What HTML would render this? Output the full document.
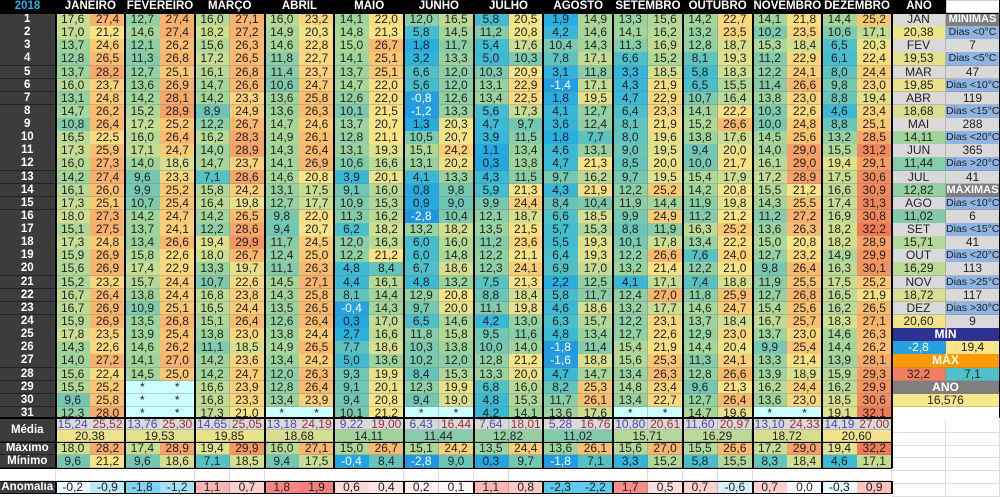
<!DOCTYPE html>
<html><head><meta charset="utf-8">
<style>
body{margin:0;width:1000px;height:494px;background:#fff;overflow:hidden;position:relative;font-family:"Liberation Sans",sans-serif;}
.c{position:absolute;box-sizing:border-box;font-size:12px;line-height:13px;text-align:center;color:#222;white-space:nowrap;overflow:hidden;border-right:1px solid rgba(120,120,120,.35);border-bottom:1px solid rgba(120,120,120,.35);}
.l{background:#3c3c3c;color:#fff;font-weight:bold;border-color:#222;font-size:11.5px;}
.h{background:#000;color:#fff;font-weight:bold;border:none;font-size:11.5px;}
.v{position:absolute;background:#000;}
</style></head><body>
<div id="r"></div>
<script>
const R=document.getElementById('r');
function cell(x,y,w,h,t,bg,cls,style){const d=document.createElement('div');d.className='c '+(cls||'');d.style.left=x+'px';d.style.top=y+'px';d.style.width=w+'px';d.style.height=h+'px';d.style.lineHeight=h+'px';if(bg)d.style.background=bg;if(style)d.style.cssText+=style;d.textContent=t;R.appendChild(d);return d;}
function line(x,y,w,h){const d=document.createElement('div');d.className='v';d.style.left=x+'px';d.style.top=y+'px';d.style.width=w+'px';d.style.height=h+'px';R.appendChild(d);}
const stops=[[-2.8,[30,150,225]],[2,[40,175,225]],[6,[70,190,205]],[10,[120,200,175]],[14,[160,212,155]],[18,[205,222,145]],[21,[248,228,135]],[25,[250,200,115]],[28.5,[247,165,105]],[32.5,[238,120,85]]];
function col(v){if(v<=stops[0][0])return 'rgb('+stops[0][1]+')';for(let i=1;i<stops.length;i++){if(v<=stops[i][0]){const a=stops[i-1],b=stops[i],t=(v-a[0])/(b[0]-a[0]);return 'rgb('+a[1].map((c,k)=>Math.round(c+(b[1][k]-c)*t)).join(',')+')';}}return 'rgb('+stops[stops.length-1][1]+')';}
function acol(v){if(v<0){const t=Math.min(1,-v/2.3);return 'rgb('+[Math.round(255-165*t),Math.round(255-55*t),Math.round(255-17*t)]+')';}const t=Math.min(1,v/1.9);return 'rgb('+[Math.round(255-8*t),Math.round(255-128*t),Math.round(255-128*t)]+')';}
const D=`17,6 27,4 12,7 27,4 16,0 27,1 16,0 23,2 14,1 22,0 12,0 16,5 5,8 20,5 1,9 14,9 13,3 15,6 14,2 22,7 14,1 21,8 14,4 25,2
17,0 21,2 14,6 27,4 18,2 27,2 14,9 20,3 14,8 21,3 5,8 14,5 11,2 20,8 4,2 14,6 14,1 16,2 13,2 23,5 10,2 23,5 10,6 17,1
13,7 24,6 12,1 26,2 15,6 26,3 14,6 22,8 15,0 26,7 1,8 11,7 5,4 17,6 10,4 14,3 11,3 16,9 12,8 18,7 15,3 18,4 6,5 20,3
12,8 26,5 11,3 26,8 17,2 26,5 11,8 22,7 14,1 25,1 3,2 13,3 5,0 10,3 7,8 17,1 6,6 15,2 8,1 19,3 11,2 22,9 6,1 22,4
13,7 28,2 12,7 25,1 16,1 26,8 11,4 23,7 13,7 25,1 6,6 12,0 10,3 20,9 3,1 11,8 3,3 18,5 5,8 18,3 12,2 24,1 8,0 24,4
16,0 23,7 13,6 26,9 14,7 26,6 10,6 24,7 14,7 22,0 5,6 12,0 13,1 22,9 -1,4 17,1 4,3 21,9 6,5 15,5 11,4 26,6 9,8 23,0
13,1 24,8 14,2 28,1 14,2 23,3 13,6 25,8 12,6 22,0 -0,8 12,6 13,4 22,5 1,8 19,5 4,7 22,9 10,7 16,4 13,8 23,0 8,8 19,4
14,7 26,2 15,2 28,9 8,9 24,9 13,6 26,3 10,1 21,5 -1,2 13,3 5,6 17,3 4,1 12,7 6,4 23,3 14,1 22,2 10,3 22,6 4,6 23,4
10,8 26,4 17,2 25,2 12,2 26,7 14,7 24,6 13,7 20,7 1,3 20,3 4,7 9,7 3,6 12,4 8,1 21,9 15,2 26,6 10,0 24,8 8,8 25,1
16,5 22,5 16,0 26,4 16,2 28,3 14,9 26,1 12,8 21,1 10,5 20,7 3,9 11,5 1,8 7,7 8,0 19,6 13,8 17,6 14,5 25,6 13,2 28,5
17,3 25,9 17,1 24,7 14,0 28,9 14,3 26,4 13,1 19,3 15,1 24,2 1,1 13,4 4,6 13,1 9,0 19,5 9,4 20,0 14,0 29,0 15,5 31,2
16,0 27,3 14,0 18,6 14,7 23,7 14,1 26,9 10,6 16,6 13,1 20,2 0,3 13,8 4,7 21,3 8,5 20,0 10,0 21,7 16,1 29,0 19,4 29,1
14,2 27,4 9,6 23,3 7,1 28,6 14,6 20,8 3,9 20,1 4,1 13,3 4,3 11,5 9,7 16,2 9,7 19,5 15,4 17,9 17,2 28,9 17,5 30,6
16,1 26,0 9,9 25,2 15,8 24,2 13,1 17,5 9,1 16,0 0,8 9,8 5,9 21,3 4,3 21,9 12,2 25,2 14,2 20,8 15,5 21,2 16,6 30,9
17,3 25,1 10,7 25,4 16,4 19,8 12,7 17,7 10,9 15,3 0,9 9,0 9,9 24,4 8,4 10,4 11,9 14,4 11,9 19,8 14,3 25,5 17,4 31,3
18,0 27,3 14,2 24,7 14,2 26,5 9,8 22,0 11,3 16,2 -2,8 10,4 12,1 18,7 6,6 18,5 9,9 24,9 11,2 21,2 11,2 27,2 16,9 30,8
15,1 27,5 13,7 24,1 12,2 28,6 9,4 20,7 6,2 18,2 13,2 18,2 13,5 21,5 5,7 15,3 8,8 11,9 16,3 25,2 13,6 26,3 18,2 32,2
17,3 24,8 13,4 26,6 19,4 29,9 11,7 24,5 12,0 16,3 6,0 16,0 11,2 23,6 5,5 19,3 10,1 17,8 13,4 22,2 15,0 20,8 18,2 28,9
15,9 26,9 15,8 22,6 18,0 26,7 12,4 25,0 12,2 21,2 6,0 14,8 12,2 21,1 6,4 19,3 12,2 26,6 7,6 24,0 12,7 23,2 14,9 29,9
15,6 26,9 17,4 22,9 13,3 19,7 11,1 26,3 4,8 8,4 6,7 18,6 12,3 24,1 6,9 17,0 13,2 21,4 12,2 21,0 9,8 26,4 16,3 30,1
15,2 23,2 15,7 24,4 10,7 22,6 14,5 27,1 4,4 16,1 4,8 13,2 7,5 21,3 2,2 12,5 4,1 17,1 7,4 18,8 11,9 25,5 17,5 25,2
16,7 26,4 13,8 24,4 16,8 23,8 14,3 25,8 8,1 14,4 12,9 20,8 8,8 18,4 5,8 11,7 12,4 27,0 11,8 25,9 12,7 26,8 16,5 21,9
16,7 26,9 10,9 25,1 16,5 24,4 13,5 26,5 -0,4 14,3 9,7 20,0 11,1 19,8 4,6 18,6 13,2 17,7 14,6 24,7 15,4 25,6 16,2 26,5
15,9 26,9 13,5 26,8 15,1 26,4 12,6 26,4 0,3 17,0 6,5 14,6 4,2 13,0 6,3 15,7 12,2 23,1 13,7 18,4 16,7 25,7 18,3 27,1
17,8 23,5 13,9 25,4 13,8 23,0 13,8 24,4 2,7 16,6 11,8 15,8 9,5 11,6 4,8 13,4 12,7 22,6 12,9 23,0 13,7 23,0 14,6 26,3
14,3 22,6 14,6 26,2 11,1 18,5 14,9 26,5 7,7 18,6 10,3 13,8 10,0 14,0 -1,8 11,4 15,4 21,9 14,4 20,4 9,9 25,4 14,4 26,2
14,0 27,2 14,1 27,0 14,2 23,6 13,4 24,2 5,0 13,6 10,2 12,0 12,8 21,2 -1,6 18,8 15,6 25,3 11,3 24,1 13,3 21,4 13,9 28,1
15,6 22,4 14,5 25,0 14,2 24,7 12,0 26,3 9,3 19,9 8,4 15,3 13,3 20,0 4,7 14,7 13,4 26,3 12,8 26,6 13,9 18,9 15,9 29,3
15,5 25,2 * * 16,6 23,9 12,8 26,4 9,1 20,1 12,3 19,9 6,8 16,0 8,2 25,3 14,8 23,4 9,6 21,3 16,2 24,4 16,2 29,9
9,6 25,8 * * 16,8 23,3 13,4 23,9 9,4 20,8 9,4 19,0 4,8 15,3 11,7 26,1 13,4 22,7 12,7 26,4 13,6 23,0 18,5 30,6
12,3 28,0 * * 17,3 21,0 * * 10,1 21,2 * * 4,2 14,1 13,6 17,6 * * 14,7 19,6 * * 19,1 32,1`.split('\n').map(r=>r.trim().split(/\s+/));
const CW=69.7/2,X0=55.5,RH=13.13,Y0=13;
const cx=j=>X0+j*CW;
cell(0,0,1000,13,'','#000','h');
cell(0,0,55,13,'2018','#000','h','color:#1eb4e6;');
['JANEIRO','FEVEREIRO','MARÇO','ABRIL','MAIO','JUNHO','JULHO','AGOSTO','SETEMBRO','OUTUBRO','NOVEMBRO','DEZEMBRO'].forEach((m,i)=>cell(cx(2*i),0,69.7,13,m,'#000','h'));
cell(892,0,54,13,'ANO','#000','h');
cell(946,0,54,13,'','#fff','', 'border:1px solid #ccc;');
for(let i=0;i<31;i++){const y=Y0+i*RH;cell(0,y,55.5,RH+0.5,String(i+1),null,'l');
 D[i].forEach((t,j)=>{if(t==='*'){cell(cx(j),y,CW+0.5,RH+0.5,'*','#ccffff');}else{const v=parseFloat(t.replace(',','.'));cell(cx(j),y,CW+0.5,RH+0.5,t,col(v),'',v<0?'color:#fff;':'');}});}
const mons=['JAN','FEV','MAR','ABR','MAI','JUN','JUL','AGO','SET','OUT','NOV','DEZ'];
const avg=['20,38','19,53','19,85','18,68','14,11','11,44','12,82','11,02','15,71','16,29','18,72','20,60'];
for(let k=0;k<12;k++){cell(892,Y0+2*k*RH,54,RH+0.5,mons[k],'#d9d9d9');cell(892,Y0+(2*k+1)*RH,54,RH+0.5,avg[k],col(parseFloat(avg[k].replace(',','.'))));}
const rc=[['MÍNIMAS','h2'],['Dias <0°C','b'],['7','g'],['Dias <5°C','b'],['47','g'],['Dias <10°C','b'],['119','g'],['Dias <15°C','b'],['288','g'],['Dias <20°C','b'],['365','g'],['Dias >20°C','b'],['41','g'],['MÁXIMAS','h2'],['Dias <10°C','b'],['6','g'],['Dias <15°C','b'],['41','g'],['Dias <20°C','b'],['113','g'],['Dias >25°C','b'],['117','g'],['Dias >30°C','b'],['9','g']];
rc.forEach((r,k)=>{const y=Y0+k*RH;if(r[1]==='h2')cell(946,y,54,RH+0.5,r[0],'#7f7f7f','', 'color:#fff;font-weight:bold;font-size:11px;');else if(r[1]==='b')cell(946,y,54,RH+0.5,r[0],'#8db4e2','', 'font-size:10.5px;');else cell(946,y,54,RH+0.5,r[0],'#d9d9d9');});
let y=Y0+24*RH;
cell(892,y,108,RH+0.5,'MÍN','#2e3192','', 'color:#fff;font-weight:bold;');y+=RH;
cell(892,y,54,RH+0.5,'-2,8','#2a9fe0','', 'color:#fff;');cell(946,y,54,RH+0.5,'19,4','#f8e68a');y+=RH;
cell(892,y,108,RH+0.5,'MÁX','#ff9900','', 'color:#fff;font-weight:bold;');y+=RH;
cell(892,y,54,RH+0.5,'32,2','#f07f5e');cell(946,y,54,RH+0.5,'7,1','#50c0c8');y+=RH;
cell(892,y,108,RH+0.5,'ANO','#7f7f7f','', 'color:#fff;font-weight:bold;');y+=RH;
cell(892,y,108,RH+0.5,'16,576','#f8e68a');
for(let k=0;k<6;k++){cell(892,Y0+31*RH+k*12.8,54,12.8,'','#fff','', 'border-color:#ddd;');cell(946,Y0+31*RH+k*12.8,54,12.8,'','#fff','', 'border-color:#ddd;');}
const mn='15,24 13,76 14,65 13,18 9,22 6,43 7,64 5,28 10,80 11,60 13,10 14,19'.split(' ');
const mx='25,52 25,30 25,05 24,19 19,00 16,44 18,01 16,76 20,61 20,97 24,33 27,00'.split(' ');
const MX='18,0 28,2 17,4 28,9 19,4 29,9 16,0 27,1 15,0 26,7 15,1 24,2 13,5 24,4 13,6 26,1 15,6 27,0 15,5 26,6 17,2 29,0 19,4 32,2'.split(' ');
const MN='9,6 21,2 9,6 18,6 7,1 18,5 9,4 17,5 -0,4 8,4 -2,8 9,0 0,3 9,7 -1,8 7,1 3,3 15,2 5,8 15,5 8,3 18,4 4,6 17,1'.split(' ');
const AN='-0,2 -0,9 -1,8 -1,2 1,1 0,7 1,8 1,9 0,6 0,4 0,2 0,1 1,1 0,8 -2,3 -2,2 1,7 0,5 0,7 -0,6 0,7 0,0 -0,3 0,9'.split(' ');
cell(0,418,55.5,24,'Média',null,'l');
cell(0,442,55.5,13,'Máximo',null,'l');cell(0,455,55.5,13,'Mínimo',null,'l');
cell(0,468,55.5,13,'','#fff','', 'border-color:#ddd;');
cell(0,481,55.5,13,'Anomalia',null,'l');
const pv=s=>parseFloat(s.replace(',','.'));
for(let m=0;m<12;m++){
 cell(cx(2*m),418,CW+0.5,12,mn[m],'#d9d9d9','', 'color:#4a4ab0;');
 cell(cx(2*m+1),418,CW+0.5,12,mx[m],'#d9d9d9','', 'color:#a03030;');
 cell(cx(2*m),430,69.7,12,avg[m],col(pv(avg[m])));
}
for(let j=0;j<24;j++){
 cell(cx(j),442,CW+0.5,13,MX[j],col(pv(MX[j])));
 cell(cx(j),455,CW+0.5,13,MN[j],col(pv(MN[j])),'',pv(MN[j])<0?'color:#fff;':'');
 cell(cx(j),468,CW+0.5,13,'','#fff','', 'border-color:#ddd;');
 cell(cx(j),481,CW+0.5,13,AN[j],acol(pv(AN[j])));
}
for(let m=0;m<=12;m++){line(Math.round(X0+m*69.7)-1,0,2,468);line(Math.round(X0+m*69.7)-1,481,2,13);}
line(891,0,2,418);line(999,0,1,418);
line(0,12.5,1000,1);line(0,417,892,1.5);line(0,441.5,892,1.5);line(0,467.5,892,1.5);line(0,480.5,892,1.5);line(0,493,892,1);
</script>
</body></html>
